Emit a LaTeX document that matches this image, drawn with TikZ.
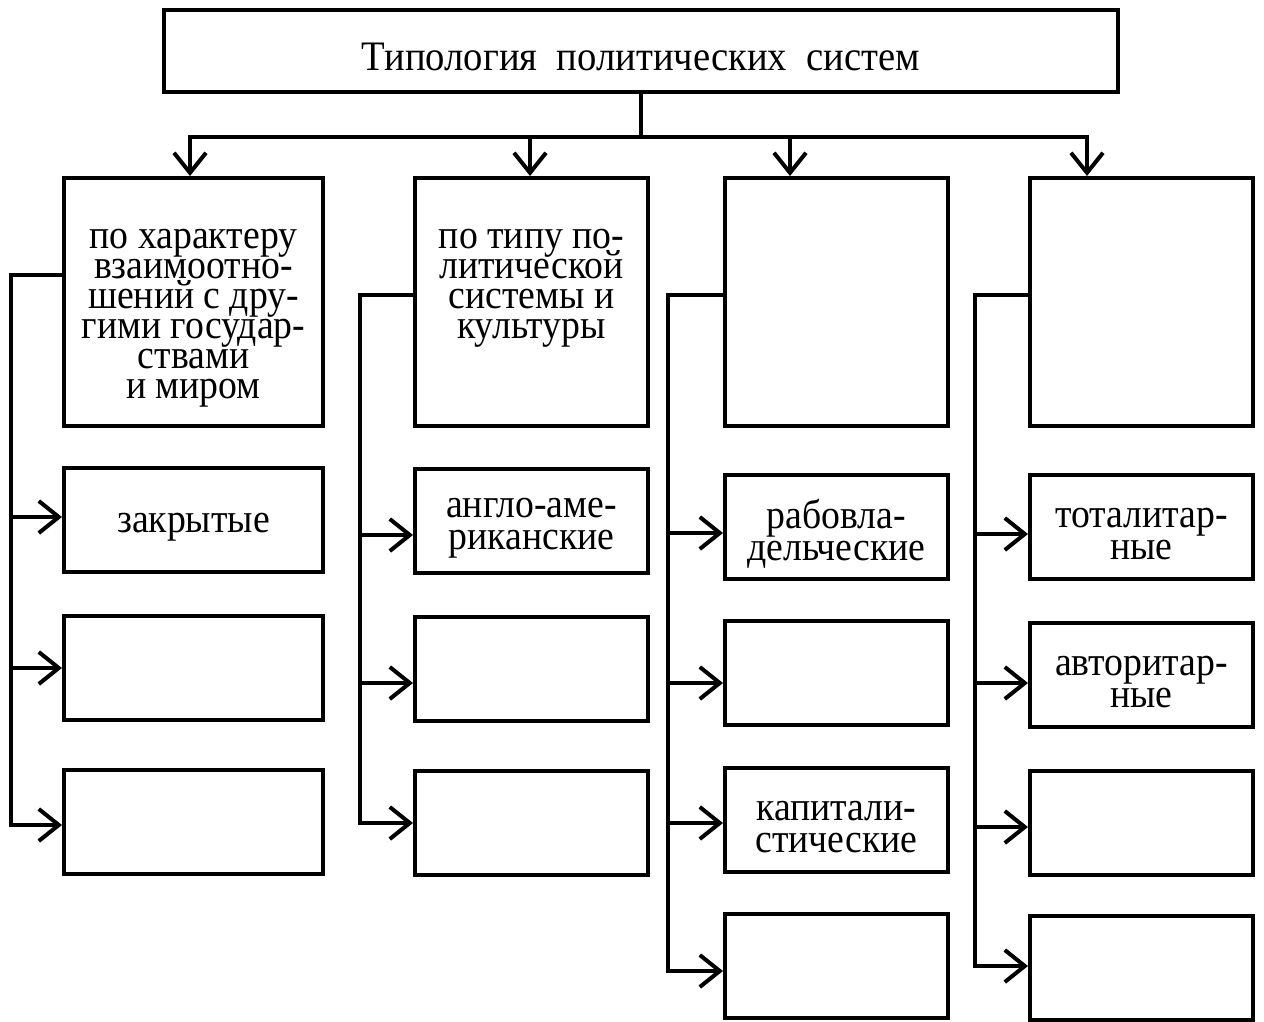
\documentclass[tikz,border=0pt]{standalone}
\usepackage{fontspec}
\setmainfont{Liberation Serif}[FakeStretch=0.92]
\usetikzlibrary{arrows.meta}

\newcommand\boxfont{\fontsize{41}{30}\selectfont\lineskiplimit-100pt\relax}
\newcommand\subfont{\fontsize{41}{32}\selectfont\lineskiplimit-100pt\relax}

\tikzset{
  txt/.style={inner sep=0pt, align=center, font=\boxfont},
  subtxt/.style={txt, font=\subfont},
  box/.style={txt, draw, line width=4pt},
  hdr/.style={box, minimum width=#1, minimum height=248pt},
  sub/.style={box, minimum width=#1, minimum height=104pt},
  line/.style={line width=4.5pt, line cap=rect},
  arr/.style={-{Straight Barb[length=20pt,width=32pt,line width=4pt]}},
}

\begin{document}
\begin{tikzpicture}[x=1pt,y=-1pt]
  \useasboundingbox (0,0) rectangle (1264,1021);
  %% title
  \node[box, minimum width=954pt, minimum height=82pt, text height=39pt, font=\fontsize{42}{42}\selectfont] (top) at (641,51) {Типология\ \ политических\ \ систем};
  %% groups
  \node[hdr=259pt] (h1) at (193.5,302) {};
  \node[hdr=233pt] (h2) at (531.5,302) {};
  \node[hdr=223pt] (h3) at (836.5,302) {};
  \node[hdr=223pt] (h4) at (1141.5,302) {};
  \node[txt, anchor=north] (t1) at ([yshift=-53pt]h1.north) {по характеру\\взаимоотно-\\шений с дру-\\гими государ-\\ствами\\и миром};
  \node[txt, anchor=north] (t2) at ([yshift=-53pt]h2.north) {по типу по-\\литической\\системы и\\культуры};
  %% bus
  \coordinate (d1) at (190,137);
  \coordinate (d2) at (530,137);
  \coordinate (d3) at (790,137);
  \coordinate (d4) at (1087,137);
  \draw[line] (top.south) -- (top.south |- d1);
  \draw[line] (d1) -- (d4);
  \foreach \i in {1,...,4}
    \draw[line, arr] (d\i) -- (d\i |- h\i.north);
  %% column 1
  \coordinate (s1) at (11,275);
  \foreach \n/\yc/\ya/\txt in {1/520/517/закрытые, 2/668/668/, 3/822/825/}{
    \node[sub=259pt] (b1\n) at (193.5,\yc) {};
    \node[subtxt] (l1\n) at ([yshift=-7pt]b1\n.center) {\txt};
    \draw[line, arr] (s1 |- 0,\ya) -- (b1\n.west |- 0,\ya);
  }
  \draw[line] (h1.west |- s1) -- (s1) -- (s1 |- 0,825);
  %% column 2
  \coordinate (s2) at (360,295);
  \foreach \n/\yc/\ya/\txt in {1/521/535/{англо-аме-\\риканские}, 2/669/683/, 3/823/823/}{
    \node[sub=233pt] (b2\n) at (531.5,\yc) {};
    \node[subtxt] (l2\n) at ([yshift=-7pt]b2\n.center) {\txt};
    \draw[line, arr] (s2 |- 0,\ya) -- (b2\n.west |- 0,\ya);
  }
  \draw[line] (h2.west |- s2) -- (s2) -- (s2 |- 0,823);
  %% column 3
  \coordinate (s3) at (668,295);
  \foreach \n/\yc/\ya/\txt in {1/527/533/{рабовла-\\дельческие}, 2/673/683/, 3/820/823/{капитали-\\стические}, 4/966/971/}{
    \node[sub=223pt] (b3\n) at (836.5,\yc) {};
    \node[subtxt] (l3\n) at ([yshift=-7pt]b3\n.center) {\txt};
    \draw[line, arr] (s3 |- 0,\ya) -- (b3\n.west |- 0,\ya);
  }
  \draw[line] (h3.west |- s3) -- (s3) -- (s3 |- 0,971);
  %% column 4
  \coordinate (s4) at (975,295);
  \foreach \n/\yc/\ya/\txt in {1/527/534/{тоталитар-\\ные}, 2/675/683/{авторитар-\\ные}, 3/823/827/, 4/968/966/}{
    \node[sub=223pt] (b4\n) at (1141.5,\yc) {};
    \node[subtxt] (l4\n) at ([yshift=-7pt]b4\n.center) {\txt};
    \draw[line, arr] (s4 |- 0,\ya) -- (b4\n.west |- 0,\ya);
  }
  \draw[line] (h4.west |- s4) -- (s4) -- (s4 |- 0,966);
\end{tikzpicture}
\end{document}
